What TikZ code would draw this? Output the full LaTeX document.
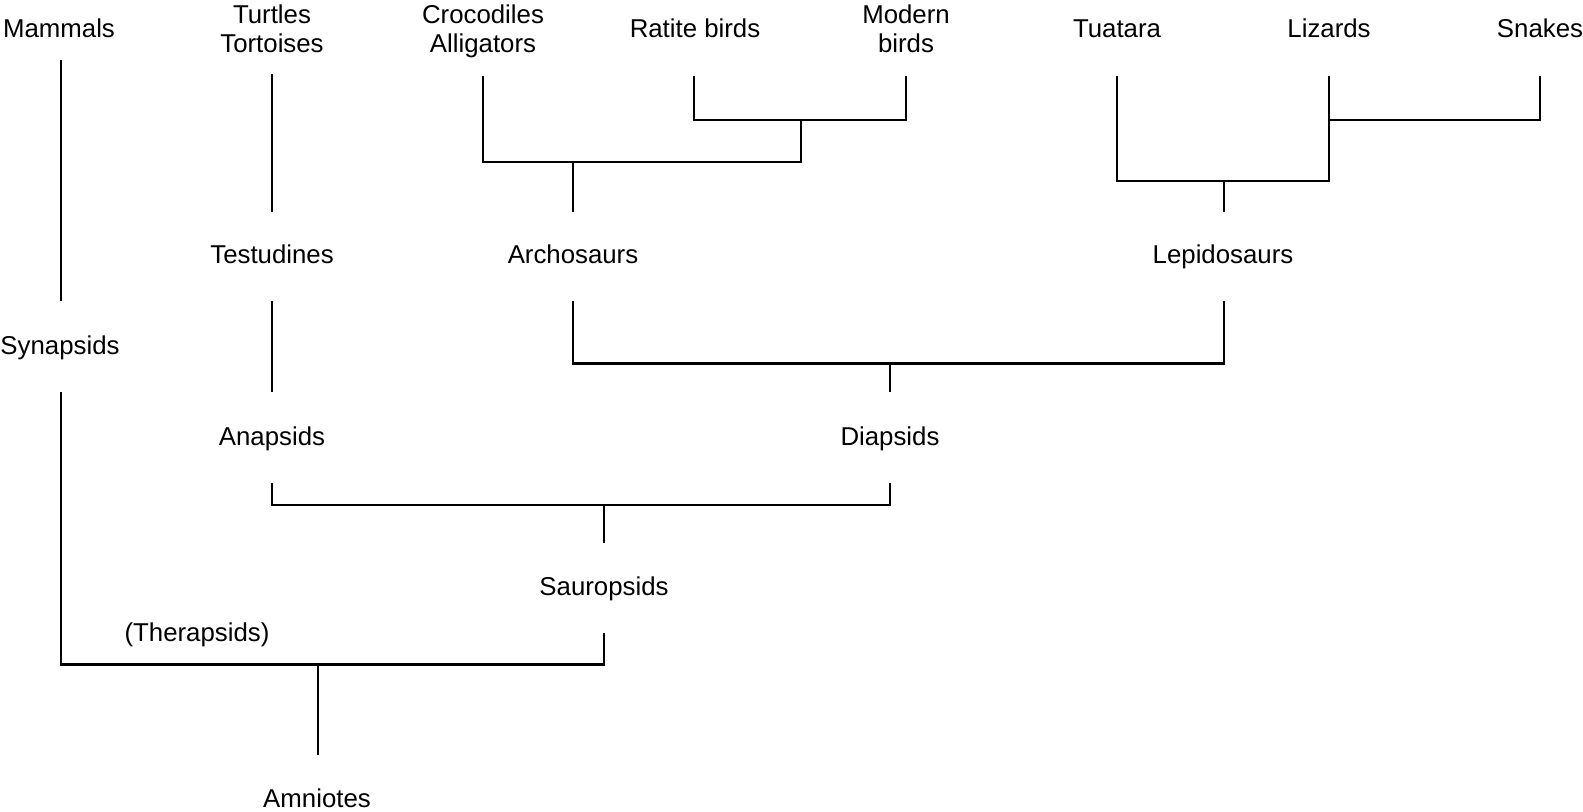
\documentclass[tikz,border=0pt]{standalone}
\usepackage{fontspec}
\setmainfont{Liberation Sans}

\begin{document}
\begin{tikzpicture}[x=0.5pt,y=-0.5pt,
  taxon/.style={anchor=base,inner sep=0pt,align=center,font=\fontsize{12.9}{14.5}\selectfont},
  branch/.style={line width=1.15pt},
  heavy/.style={line width=1.35pt}]
  \useasboundingbox (0,0) rectangle (1583,811);
  \node[taxon] (mammals) at (59,37.5) {Mammals};
  \node[taxon] (turtles) at (272,52.5) {Turtles\\Tortoises};
  \node[taxon] (crocs) at (483,52.5) {Crocodiles\\Alligators};
  \node[taxon] (ratites) at (695,37.5) {Ratite birds};
  \node[taxon] (modern) at (906,52.5) {Modern\\birds};
  \node[taxon] (tuatara) at (1117,37.5) {Tuatara};
  \node[taxon] (lizards) at (1329,37.5) {Lizards};
  \node[taxon] (snakes) at (1540,37.5) {Snakes};
  \node[taxon] (testudines) at (272,263.5) {Testudines};
  \node[taxon] (archosaurs) at (573,263.5) {Archosaurs};
  \node[taxon] (lepidosaurs) at (1223,263.5) {Lepidosaurs};
  \node[taxon] (synapsids) at (60,354) {Synapsids};
  \node[taxon] (anapsids) at (272,445) {Anapsids};
  \node[taxon] (diapsids) at (890,445) {Diapsids};
  \node[taxon] (sauropsids) at (604,595) {Sauropsids};
  \node[taxon] (therapsids) at (197,641) {(Therapsids)};
  \node[taxon] (amniotes) at (317,807) {Amniotes};

  \coordinate (mamTop) at (61,60);
  \coordinate (mamBot) at (61,301);
  \coordinate (synTop) at (61,392);
  \coordinate (amnJ) at (318,664.5);
  \coordinate (amnBot) at (318,755);
  \coordinate (sauBot) at (604,633);
  \coordinate (sauTop) at (604,543);
  \coordinate (sauJ) at (604,505);
  \coordinate (anaJ) at (272,483);
  \coordinate (diaJ) at (890,483);
  \coordinate (turTop) at (272,74);
  \coordinate (turBot) at (272,212);
  \coordinate (tesBot) at (272,301);
  \coordinate (tesTop) at (272,392);
  \coordinate (diaTop) at (890,392);
  \coordinate (arlJ) at (890,363.5);
  \coordinate (archBot) at (573,301);
  \coordinate (lepBot) at (1224,301);
  \coordinate (archTop) at (573,212);
  \coordinate (archJ) at (573,162);
  \coordinate (crocTop) at (483,76);
  \coordinate (birdJ) at (801,120);
  \coordinate (ratTop) at (694,76);
  \coordinate (modTop) at (906,76);
  \coordinate (lepTop) at (1224,212);
  \coordinate (lepJ) at (1224,181);
  \coordinate (tuaTop) at (1117,76);
  \coordinate (lizTop) at (1329,76);
  \coordinate (squJ) at (1329,120);
  \coordinate (snaTop) at (1540,76);

  \draw[branch] (mamTop)--(mamBot);
  \draw[branch] (synTop)|-(amnJ);
  \draw[branch] (amnJ)-|(sauBot);
  \draw[heavy] (amnJ)--(amnBot);
  \draw[branch] (anaJ)|-(sauJ)-|(diaJ); \draw[branch] (sauJ)--(sauTop);
  \draw[branch] (turTop)--(turBot); \draw[branch] (tesBot)--(tesTop);
  \draw[branch] (archBot)|-(arlJ)-|(lepBot); \draw[branch] (arlJ)--(diaTop);
  \draw[heavy] (archTop)--(archJ);
  \draw[branch] (crocTop)|-(archJ); \draw[heavy] (archJ)-|(birdJ);
  \draw[branch] (ratTop)|-(birdJ)-|(modTop);
  \draw[branch] (lepTop)--(lepJ);
  \draw[branch] (tuaTop)|-(lepJ)-|(lizTop);
  \draw[branch] (squJ)-|(snaTop);
\end{tikzpicture}
\end{document}
